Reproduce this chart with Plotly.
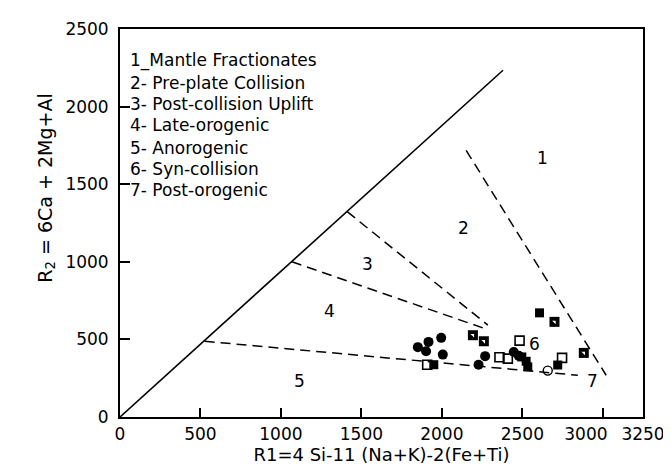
import plotly.graph_objects as go

# ---- data ----
x_ticks = [0, 500, 1000, 1500, 2000, 2500, 3000, 3250]
x_label_vals = [0, 500, 1000, 1500, 2000, 2500, 2895, 3250]   # where the printed labels sit
x_label_text = ["0", "500", "1000", "1500", "2000", "2500", "3000", "3250"]
y_ticks = [0, 500, 1000, 1500, 2000, 2500]

solid_x = [0, 2380]
solid_y = [0, 2234]
b12_x = [2151, 3021]
b12_y = [1718, 269]
b23_x = [1412, 2286]
b23_y = [1323, 592]
b34_x = [1068, 2286]
b34_y = [1000, 563]
b45_x = [526, 2845]
b45_y = [488, 269]

region_labels = ["1", "2", "3", "4", "5", "6", "7"]
region_x = [2627, 2137, 1536, 1302, 1116, 2576, 2938]
region_y = [1671, 1219, 987, 686, 234, 471, 230]

legend_lines = ["1_Mantle Fractionates", "2- Pre-plate Collision", "3- Post-collision Uplift",
                "4- Late-orogenic", "5- Anorogenic", "6- Syn-collision", "7- Post-orogenic"]
legend_y = [2300, 2155, 2015, 1880, 1735, 1600, 1462]
legend_x = 50

circ_x = [1851, 1917, 1902, 1996, 2006, 2269, 2228, 2447, 2478]
circ_y = [450, 484, 424, 510, 402, 392, 337, 419, 394]
fsq_x = [2607, 1950, 2524, 2534, 2720, 2497]
fsq_y = [671, 337, 359, 323, 335, 387]
hsq_x = [2193, 2261, 2700, 2882]
hsq_y = [527, 488, 613, 413]
osq_x = [1909, 2358, 2410, 2483, 2747]
osq_y = [337, 385, 376, 492, 381]
ocirc_x = [2658]
ocirc_y = [299]

FONT = "DejaVu Sans"
fig = go.Figure()

fig.add_trace(go.Scatter(x=solid_x, y=solid_y, mode="lines",
                         line=dict(color="black", width=1.6), showlegend=False))
for bx, by in [(b12_x, b12_y), (b23_x, b23_y), (b34_x, b34_y), (b45_x, b45_y)]:
    fig.add_trace(go.Scatter(x=bx, y=by, mode="lines",
                             line=dict(color="black", width=1.5, dash="10px,6px"),
                             showlegend=False))

fig.add_trace(go.Scatter(x=osq_x, y=osq_y, mode="markers",
                         marker=dict(symbol="square-open", size=9, color="black",
                                     line=dict(width=1.6, color="black")), showlegend=False))
fig.add_trace(go.Scatter(x=ocirc_x, y=ocirc_y, mode="markers",
                         marker=dict(symbol="circle-open", size=9, color="black",
                                     line=dict(width=1.4, color="black")), showlegend=False))
fig.add_trace(go.Scatter(x=circ_x, y=circ_y, mode="markers",
                         marker=dict(symbol="circle", size=10, color="black"), showlegend=False))
fig.add_trace(go.Scatter(x=fsq_x, y=fsq_y, mode="markers",
                         marker=dict(symbol="square", size=9, color="black"), showlegend=False))
fig.add_trace(go.Scatter(x=hsq_x, y=hsq_y, mode="markers",
                         marker=dict(symbol="square", size=10, color="black"), showlegend=False))
fig.add_trace(go.Scatter(x=hsq_x, y=hsq_y, mode="markers",
                         marker=dict(symbol="triangle-ne", size=4, color="white"), showlegend=False))

# invisible trace to activate the label axis
fig.add_trace(go.Scatter(x=[0], y=[0], xaxis="x2", mode="markers",
                         marker=dict(opacity=0), hoverinfo="skip", showlegend=False))

for t, x, y in zip(region_labels, region_x, region_y):
    fig.add_annotation(x=x, y=y, text=t, showarrow=False,
                       font=dict(family=FONT, size=17, color="black"))

for t, y in zip(legend_lines, legend_y):
    fig.add_annotation(x=legend_x, y=y, text=t, showarrow=False, xanchor="left",
                       font=dict(family=FONT, size=17, color="black"))

fig.add_annotation(xref="paper", yref="paper", x=-0.17, y=0.59,
                   text="R<sub>2</sub> = 6Ca + 2Mg+Al", textangle=-90, showarrow=False,
                   font=dict(family=FONT, size=19, color="black"))

fig.update_layout(
    xaxis=dict(range=[0, 3250], tickvals=x_ticks, showticklabels=False,
               ticks="inside", ticklen=9, tickwidth=1.5, tickcolor="black",
               showline=True, linecolor="black", linewidth=1.8, mirror=True,
               showgrid=False, zeroline=False,
               title=dict(text="R1=4 Si-11 (Na+K)-2(Fe+Ti)", standoff=30,
                          font=dict(family=FONT, size=18, color="black"))),
    xaxis2=dict(range=[0, 3250], overlaying="x", side="bottom", anchor="y",
                tickvals=x_label_vals, ticktext=x_label_text, tickangle=0,
                ticks="", showline=False, showgrid=False, zeroline=False,
                ticklabelstandoff=5,
                tickfont=dict(family=FONT, size=17, color="black")),
    yaxis=dict(range=[0, 2500], tickvals=y_ticks, ticktext=[str(v) for v in y_ticks],
               ticks="inside", ticklen=10, tickwidth=1.5, tickcolor="black",
               showline=True, linecolor="black", linewidth=1.8, mirror=True,
               showgrid=False, zeroline=False, ticklabelstandoff=6,
               tickfont=dict(family=FONT, size=17, color="black")),
    width=671, height=465, plot_bgcolor="white", paper_bgcolor="white",
    margin=dict(l=112, r=36, t=21, b=56), showlegend=False)

fig.write_html("out.html")
